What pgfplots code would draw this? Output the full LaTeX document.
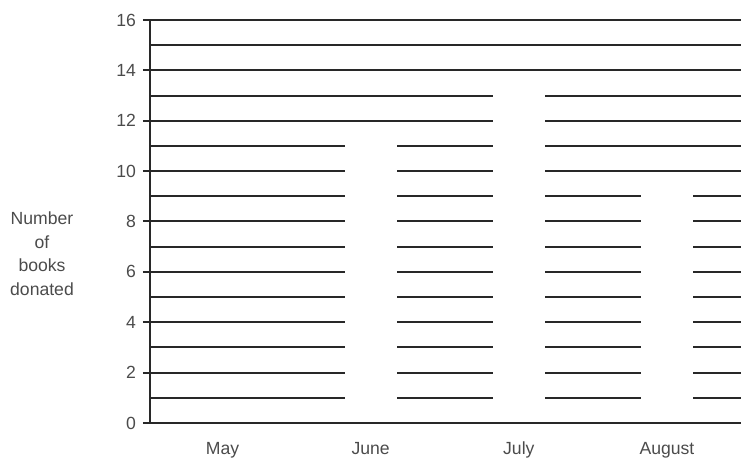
\documentclass[border=0pt]{standalone}
\usepackage{pgfplots}
\pgfplotsset{compat=1.18}
\usepackage{fontspec}
\setmainfont{Liberation Sans}
\usetikzlibrary{calc}

\definecolor{gridgray}{RGB}{40,40,40}
\definecolor{labelgray}{RGB}{75,75,75}

\begin{document}
\begin{tikzpicture}
\begin{axis}[
    scale only axis,
    width=295.5pt, height=201.5pt,
    xmin=-0.49, xmax=3.5,
    ymin=0, ymax=16,
    axis lines=left,
    axis line style={-, line width=1pt, gridgray},
    xtick={0,1,2,3},
    xticklabels={May,June,July,August},
    ytick={0,2,...,16},
    minor ytick={1,3,...,15},
    ymajorgrids, yminorgrids,
    major grid style={line width=1pt, gridgray},
    minor grid style={line width=1pt, gridgray},
    x tick style={draw=none},
    y tick style={line width=1pt, gridgray},
    tick align=outside,
    major tick length=3.5pt,
    minor tick length=0pt,
    ticklabel style={font=\fontsize{8.8}{10}\selectfont, text=labelgray},
    xticklabel shift=2.5pt,
    /pgf/number format/assume math mode=true,
    ylabel={Number\\of\\books\\donated},
    ylabel style={rotate=-90, align=center, font=\fontsize{8.8}{11.7}\selectfont,
        text=labelgray, at={(rel axis cs:0,0.42)}, anchor=center, xshift=-54pt},
]
\addplot[ybar, bar width=0.33, fill=white, draw=white, line width=1.4pt]
    coordinates {(0,0) (1,11) (2,13) (3,9)};
\draw[line width=1pt, gridgray] (rel axis cs:0,0) -- (rel axis cs:1,0);
\coordinate (sw) at (rel axis cs:0,0);
\coordinate (ne) at (rel axis cs:1,1);
\end{axis}
\pgfresetboundingbox
\path[use as bounding box] ($(sw)+(-75pt,-18pt)$) rectangle ($(ne)+(0pt,10pt)$);
\end{tikzpicture}
\end{document}
